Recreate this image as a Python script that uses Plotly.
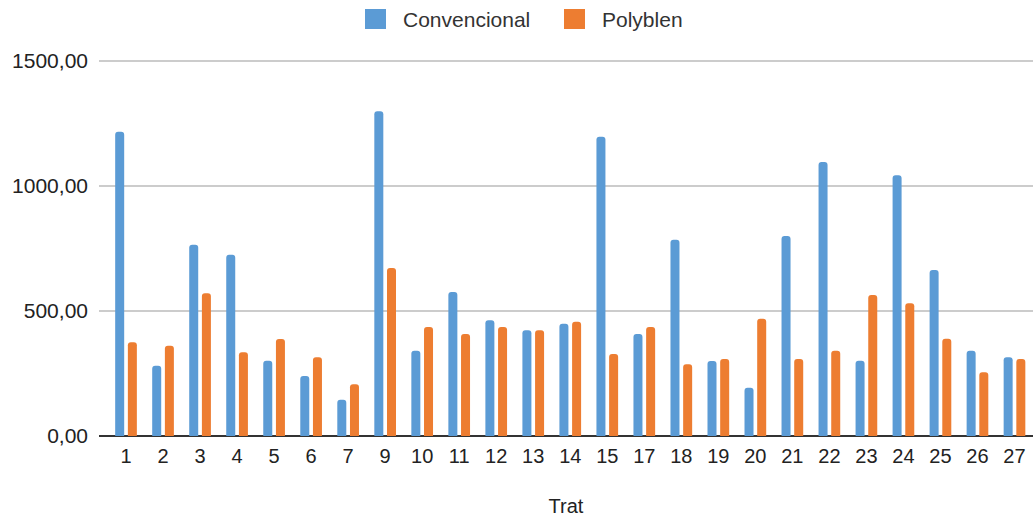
import plotly.graph_objects as go

# Treatments on the x axis
trat = ["1", "2", "3", "4", "5", "6", "7", "9", "10", "11", "12", "13", "14",
        "15", "17", "18", "19", "20", "21", "22", "23", "24", "25", "26", "27"]

convencional = [1217, 281, 765, 725, 301, 240, 145, 1299, 341, 576, 463, 423, 449,
                1197, 408, 785, 300, 193, 800, 1096, 301, 1043, 664, 341, 315]

polyblen = [375, 361, 571, 335, 388, 315, 207, 672, 436, 408, 436, 423, 457,
            328, 436, 287, 308, 469, 308, 341, 564, 531, 389, 255, 308]

y_ticks = [0, 500, 1000, 1500]

BLUE = "#5b9bd5"
ORANGE = "#ed7d31"
TEXT = "#222222"
FONT = "Liberation Sans, Arial, sans-serif"

W, H = 1035, 518
ML, MR, MT, MB = 99, 2, 56, 82

fig = go.Figure()
fig.add_trace(go.Bar(name="Convencional", x=trat, y=convencional,
                     marker=dict(color=BLUE, cornerradius=3, line=dict(width=0))))
fig.add_trace(go.Bar(name="Polyblen", x=trat, y=polyblen,
                     marker=dict(color=ORANGE, cornerradius=3, line=dict(width=0))))


def px_x(px):
    return (px - ML) / (W - ML - MR)


def px_y(py):
    return (H - MB - py) / (H - MT - MB)


# Legend drawn by hand: large rounded swatches with labels
legend_items = [("Convencional", BLUE, 365), ("Polyblen", ORANGE, 564)]
for label, color, left in legend_items:
    fig.add_shape(type="rect", xref="paper", yref="paper",
                  x0=px_x(left), x1=px_x(left + 21), y0=px_y(29), y1=px_y(9),
                  fillcolor=color, line=dict(width=0), layer="above")
    fig.add_annotation(text=label, xref="paper", yref="paper",
                       x=px_x(left + 36), y=px_y(19), xanchor="left", yanchor="middle",
                       showarrow=False, font=dict(family=FONT, size=21, color="#333333"))

fig.update_layout(
    width=W, height=H,
    margin=dict(l=ML, r=MR, t=MT, b=MB),
    paper_bgcolor="white", plot_bgcolor="white",
    separators=",.",
    barmode="group", bargap=0.315, bargroupgap=0.29,
    showlegend=False,
    font=dict(family=FONT, size=20, color=TEXT),
    xaxis=dict(type="category", range=[-0.73, 24.5], showgrid=False,
               showline=False, ticks="", ticklabelstandoff=6,
               tickfont=dict(size=20, color=TEXT),
               title=dict(text="Trat", font=dict(size=20, color=TEXT), standoff=32)),
    yaxis=dict(range=[0, 1520], tickvals=y_ticks, tickformat=".2f",
               showgrid=True, gridcolor="#cccccc", gridwidth=1.5,
               zeroline=True, zerolinecolor="#333333", zerolinewidth=2,
               ticks="", ticklabelstandoff=10,
               tickfont=dict(size=21, color=TEXT)),
)

fig.write_html("out.html")
